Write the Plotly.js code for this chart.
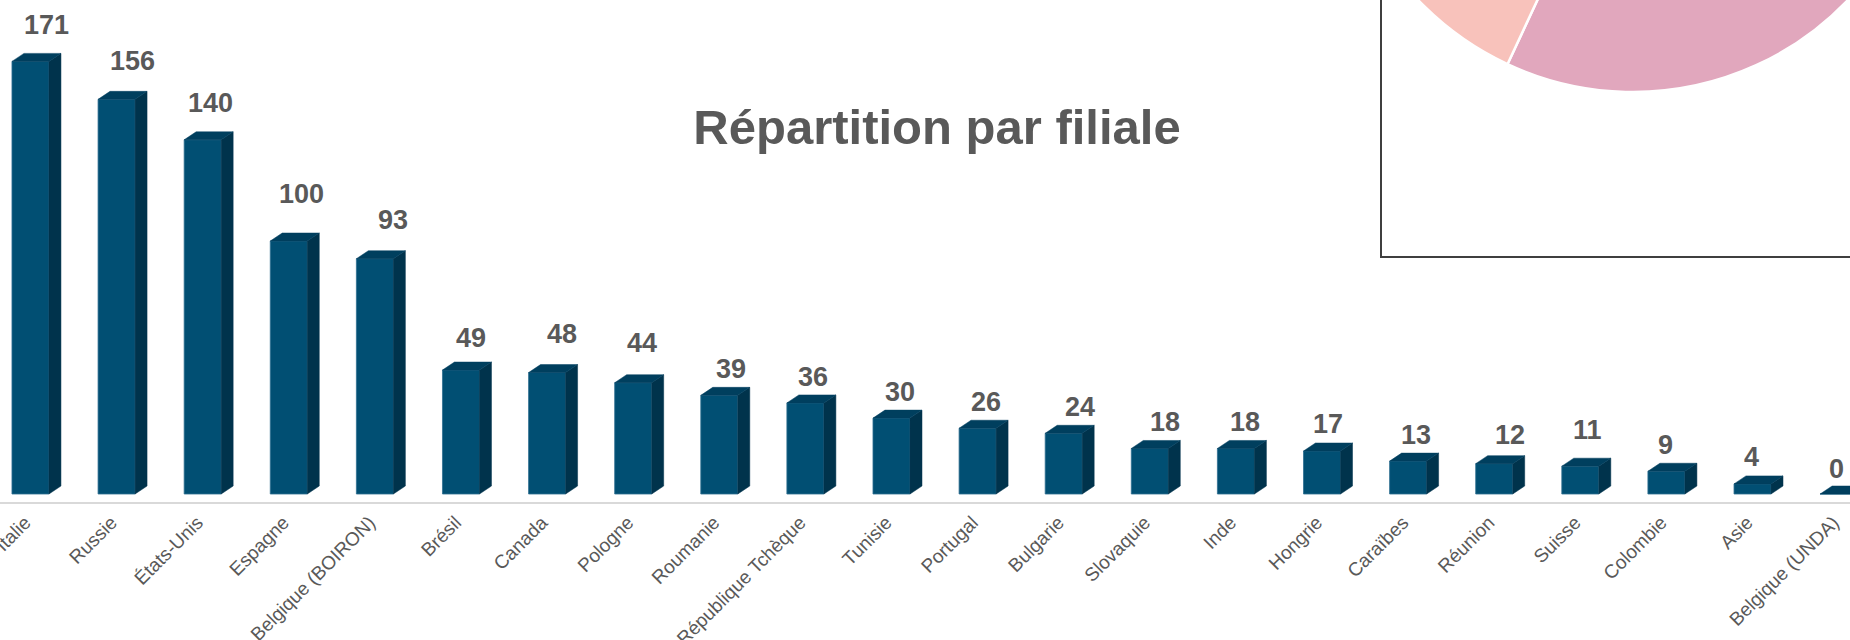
<!DOCTYPE html>
<html><head><meta charset="utf-8">
<script src="https://cdn.plot.ly/plotly-3.0.1.min.js"></script>
<style>
html,body{margin:0;padding:0;width:1850px;height:640px;overflow:hidden;background:#fff;}
#bars{position:absolute;left:0;top:0;width:1850px;height:640px;}
#pie{position:absolute;left:1336px;top:-502px;width:594px;height:594px;}
#box{position:absolute;left:1380px;top:-10px;width:520px;height:266px;border-left:2px solid #3f3f3f;border-bottom:2px solid #3f3f3f;pointer-events:none;}
</style></head><body>
<div id="bars"></div><div id="pie"></div><div id="box"></div>
<script>
const categories = ['Italie','Russie','États-Unis','Espagne','Belgique (BOIRON)','Brésil','Canada','Pologne','Roumanie','République Tchèque','Tunisie','Portugal','Bulgarie','Slovaquie','Inde','Hongrie','Caraïbes','Réunion','Suisse','Colombie','Asie','Belgique (UNDA)'];
const values = [171,156,140,100,93,49,48,44,39,36,30,26,24,18,18,17,13,12,11,9,4,0];
const titleText = 'Répartition par filiale';
const pieLabels = ['Part 1','Part 2'];
const pieValues = [55,45];

// label placement (pixels), styling only
const labelDx  = [16,16,8,13,18,10,15,9,12,8,8,8,16,15,9,6,8,16,7,-1,-1,-2];
const labelGap = [26,28,27,37,29,22,29,30,16,16,16,16,16,16,16,17,16,19,26,16,17,15];

const FONT = 'Liberation Sans, Arial, sans-serif';
const GREY = '#595959';
const W = 0.43, DX = 0.139, DY = 3.16;
const idx = categories.map((c,i)=>i);

const sideX=[], sideY=[], topX=[], topY=[];
idx.forEach(i=>{
  const v = values[i], r = i + W/2, l = i - W/2;
  sideX.push(r, r+DX, r+DX, r, r, null);
  sideY.push(0, DY, v+DY, v, 0, null);
  topX.push(l, l+DX, r+DX, r, l, null);
  topY.push(v, v+DY, v+DY, v, v, null);
});

const traces = [
  {type:'bar', x: idx, y: values, width: W, marker:{color:'#014F73', line:{color:'#2f6f90', width:0.8}}, hoverinfo:'x+y', showlegend:false},
  {type:'scatter', x: sideX, y: sideY, mode:'lines', fill:'toself', fillcolor:'#00334C', line:{color:'#00334C', width:0.5}, hoverinfo:'skip', showlegend:false},
  {type:'scatter', x: topX, y: topY, mode:'lines', fill:'toself', fillcolor:'#003F5E', line:{color:'#003F5E', width:0.5}, hoverinfo:'skip', showlegend:false}
];

const annotations = idx.map(i=>({
  x: i, y: values[i], xref:'x', yref:'y', text: String(values[i]), showarrow:false,
  xanchor:'center', yanchor:'bottom', xshift: labelDx[i], yshift: labelGap[i] - 7,
  font:{family:FONT, size:27, color:GREY, weight:700}
}));

Plotly.newPlot('bars', traces, {
  width:1850, height:640,
  margin:{l:0, r:0, t:0, b:138},
  paper_bgcolor:'#fff', plot_bgcolor:'#fff',
  title:{text:titleText, x:0.5065, xanchor:'center', xref:'paper', y:1-127/640, yanchor:'middle', yref:'container',
         font:{family:FONT, size:49, color:GREY, weight:700}},
  xaxis:{range:[-0.354, 21.132], tickmode:'array', tickvals: idx.map(i=>i-0.06), ticktext: categories, tickangle:-45,
         tickfont:{family:FONT, size:19, color:GREY}, ticklabeloverflow:'allow', showgrid:false, zeroline:false,
         showline:true, linecolor:'#d9d9d9', linewidth:2, ticks:''},
  yaxis:{range:[-3.16, 195.26], visible:false, showgrid:false, zeroline:false},
  annotations: annotations
}, {staticPlot:true});

Plotly.newPlot('pie', [{
  type:'pie', labels: pieLabels, values: pieValues, sort:false, direction:'clockwise', rotation:7,
  marker:{colors:['#E1A7BD','#F8C2BB'], line:{color:'#fff', width:2.5}},
  textinfo:'none', hoverinfo:'label+percent', showlegend:false
}], {
  width:594, height:594, margin:{l:0,r:0,t:0,b:0},
  paper_bgcolor:'rgba(0,0,0,0)', showlegend:false
}, {staticPlot:true});
</script>
</body></html>
